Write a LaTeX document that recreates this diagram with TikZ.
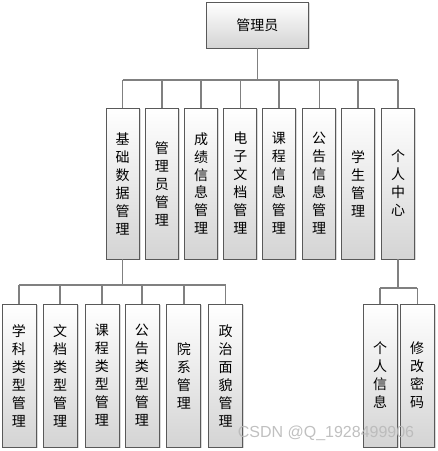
\documentclass[tikz,border=0pt]{standalone}
\usepackage{fontspec}
\usepackage{xcolor}
\newfontfamily\cjk{Noto Sans CJK SC}
\newfontfamily\wmfont{Liberation Sans}
\usetikzlibrary{positioning, shadows}
\definecolor{boxline}{HTML}{595959}
\definecolor{linkgray}{HTML}{808080}
\definecolor{boxshade}{HTML}{D4D4D4}

\tikzset{
  box/.style={draw=boxline, line width=0.9pt, top color=white, bottom color=boxshade,
    drop shadow={shadow xshift=1.5pt, shadow yshift=-1.5pt, opacity=0.3, fill=gray},
    inner sep=0pt, align=center, anchor=north, font=\cjk\fontsize{14}{18}\selectfont},
  midbox/.style={box, minimum width=33pt, minimum height=151pt},
  lowbox/.style={box, minimum width=34pt, minimum height=143pt},
  link/.style={draw=linkgray, line width=1.4pt},
}

\begin{document}
\begin{tikzpicture}[x=1pt, y=-1pt]
  \useasboundingbox (0,0) rectangle (438,451);

  \node[box, minimum width=102pt, minimum height=46pt] (admin) at (257.5,1.5) {管理员};

  % second level
  \node[midbox] (jcsj) at (122.7,107.5) {基\\础\\数\\据\\管\\理};
  \node[midbox] (glygl) at (161.8,107.5) {管\\理\\员\\管\\理};
  \node[midbox] (cjxx) at (201,107.5) {成\\绩\\信\\息\\管\\理};
  \node[midbox] (dzwd) at (240.3,107.5) {电\\子\\文\\档\\管\\理};
  \node[midbox] (kcxx) at (278.9,107.5) {课\\程\\信\\息\\管\\理};
  \node[midbox] (ggxx) at (319.2,107.5) {公\\告\\信\\息\\管\\理};
  \node[midbox] (xsgl) at (358,107.5) {学\\生\\管\\理};
  \node[midbox] (grzx) at (398,107.5) {个\\人\\中\\心};

  % third level
  \node[lowbox] (xklx) at (19,303.5) {学\\科\\类\\型\\管\\理};
  \node[lowbox] (wdlx) at (60.1,303.5) {文\\档\\类\\型\\管\\理};
  \node[lowbox] (kclx) at (102,303.5) {课\\程\\类\\型\\管\\理};
  \node[lowbox] (gglx) at (142,303.5) {公\\告\\类\\型\\管\\理};
  \node[lowbox] (yxgl) at (183.8,303.5) {院\\系\\管\\理};
  \node[lowbox] (zzmm) at (225.7,303.5) {政\\治\\面\\貌\\管\\理};
  \node[lowbox] (grxx) at (380,303.5) {个\\人\\信\\息};
  \node[lowbox] (xgmm) at (417.2,303.5) {修\\改\\密\\码};

  \coordinate (bustop) at (257.5,80);
  \coordinate (busleft) at (122.7,285);
  \coordinate (busright) at (398,288);

  \draw[link] (admin.south) -- (bustop);
  \draw[link] (jcsj.north |- bustop) -- (grzx.north |- bustop);
  \foreach \n in {jcsj,glygl,cjxx,dzwd,kcxx,ggxx,xsgl,grzx}
    \draw[link] (\n.north |- bustop) -- (\n.north);

  \draw[link] (jcsj.south) -- (busleft);
  \draw[link] (xklx.north |- busleft) -- (zzmm.north |- busleft);
  \foreach \n in {xklx,wdlx,kclx,gglx,yxgl,zzmm}
    \draw[link] (\n.north |- busleft) -- (\n.north);

  \draw[link] (grzx.south) -- (busright);
  \draw[link] (grxx.north |- busright) -- (xgmm.north |- busright);
  \foreach \n in {grxx,xgmm}
    \draw[link] (\n.north |- busright) -- (\n.north);

  \node[text=gray!55, opacity=0.9, font=\wmfont\fontsize{16}{17}\selectfont] (mark) at (326,433) {CSDN @Q\_1928499906};
\end{tikzpicture}
\end{document}
